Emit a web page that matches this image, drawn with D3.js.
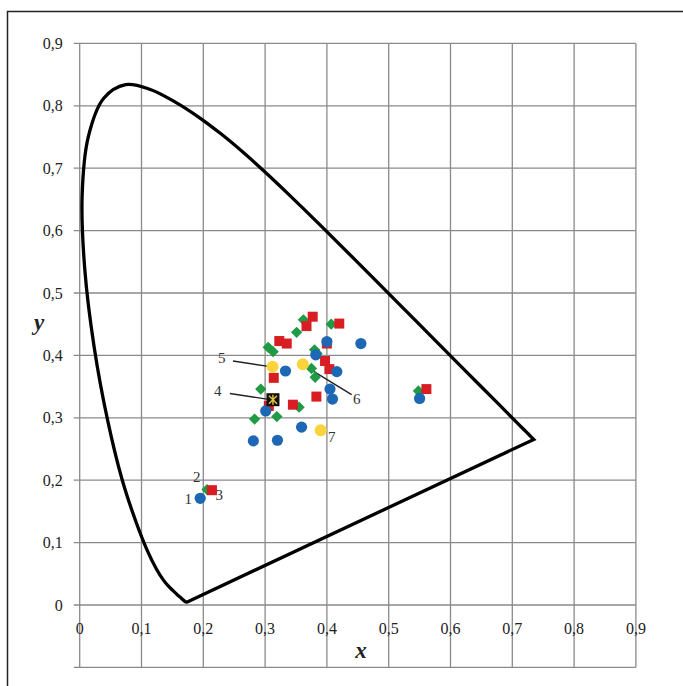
<!DOCTYPE html>
<html lang="ru">
<head>
    <meta charset="UTF-8">
    <title>CIE 1931 xy</title>
    <script src="https://cdn.jsdelivr.net/npm/d3@7/dist/d3.min.js"></script>
    <style>
        html, body { margin: 0; padding: 0; background: #fff; }
        svg { display: block; font-family: "Liberation Serif", "DejaVu Serif", serif; }
    </style>
</head>
<body>
<div id="chart"></div>
<script>
    // spectral locus (CIE 1931), 380..700 nm
    const locusX = [0.1741, 0.1738, 0.1733, 0.1726, 0.1714, 0.1689, 0.1644, 0.1566, 0.1440, 0.1355, 0.1241, 0.1096,
        0.0913, 0.0687, 0.0454, 0.0235, 0.0082, 0.0039, 0.0139, 0.0389, 0.0743, 0.1142, 0.1547, 0.1929, 0.2296,
        0.2658, 0.3016, 0.3373, 0.3731, 0.4087, 0.4441, 0.4788, 0.5125, 0.5448, 0.5752, 0.6029, 0.6270, 0.6482,
        0.6658, 0.6915, 0.7079, 0.7190, 0.7260, 0.7347];
    const locusY = [0.0050, 0.0049, 0.0048, 0.0048, 0.0051, 0.0069, 0.0109, 0.0177, 0.0297, 0.0399, 0.0578, 0.0868,
        0.1327, 0.2007, 0.2950, 0.4127, 0.5384, 0.6548, 0.7502, 0.8120, 0.8338, 0.8262, 0.8059, 0.7816, 0.7543,
        0.7243, 0.6923, 0.6589, 0.6245, 0.5896, 0.5547, 0.5202, 0.4866, 0.4544, 0.4242, 0.3965, 0.3725, 0.3514,
        0.3340, 0.3083, 0.2920, 0.2809, 0.2740, 0.2653];

    // measured points [x, y]
    const greenPts = [[0.362, 0.457], [0.351, 0.437], [0.407, 0.450], [0.305, 0.413], [0.313, 0.406], [0.380, 0.409],
        [0.384, 0.403], [0.375, 0.379], [0.381, 0.365], [0.293, 0.346], [0.355, 0.317], [0.283, 0.298],
        [0.319, 0.302], [0.206, 0.185], [0.548, 0.343]];
    const redPts = [[0.377, 0.462], [0.367, 0.447], [0.420, 0.451], [0.323, 0.423], [0.335, 0.419], [0.400, 0.419],
        [0.397, 0.391], [0.404, 0.378], [0.314, 0.364], [0.383, 0.334], [0.345, 0.321], [0.306, 0.319],
        [0.214, 0.184], [0.561, 0.346]];
    const bluePts = [[0.400, 0.422], [0.455, 0.419], [0.382, 0.401], [0.333, 0.375], [0.416, 0.374], [0.405, 0.346],
        [0.409, 0.330], [0.301, 0.311], [0.359, 0.285], [0.281, 0.263], [0.320, 0.264], [0.195, 0.171],
        [0.550, 0.331]];
    const yellowPts = [[0.312, 0.382], [0.361, 0.386], [0.390, 0.280]];
    const whitePt = [0.3127, 0.3290];

    // numbered labels and leader lines (data units)
    const labels = [["1", 0.1756, 0.1694], ["2", 0.1893, 0.2046], ["3", 0.2259, 0.1763], ["4", 0.2233, 0.3434],
        ["5", 0.2298, 0.3954], ["6", 0.4482, 0.3296], ["7", 0.4078, 0.2688]];
    const leaders = [[0.248, 0.391, 0.308, 0.382], [0.243, 0.339, 0.303, 0.330], [0.366, 0.382, 0.440, 0.337]];

    const xTicks = [0, 0.1, 0.2, 0.3, 0.4, 0.5, 0.6, 0.7, 0.8, 0.9];
    const yTicks = [-0.1, 0, 0.1, 0.2, 0.3, 0.4, 0.5, 0.6, 0.7, 0.8, 0.9];

    const width = 683, height = 686;
    const fmt = d => String(+d.toFixed(1)).replace(".", ",");

    const x = d3.scaleLinear().domain([0, 0.9]).range([79.7, 635.9]);
    const y = d3.scaleLinear().domain([-0.1, 0.9]).range([667.4, 43.4]);

    const svg = d3.select("#chart").append("svg")
        .attr("width", width)
        .attr("height", height);

    svg.append("rect").attr("width", width).attr("height", height).attr("fill", "#fff");
    svg.append("rect")
        .attr("x", 7.5).attr("y", 11.5)
        .attr("width", 720).attr("height", 720)
        .attr("fill", "none").attr("stroke", "#222").attr("stroke-width", 1.5);

    // grid
    const grid = svg.append("g").attr("stroke", "#8a8a8a").attr("stroke-width", 1.3);
    grid.selectAll(".vx").data(xTicks).join("line")
        .attr("x1", d => x(d)).attr("x2", d => x(d))
        .attr("y1", y(0.9)).attr("y2", y(-0.1));
    grid.selectAll(".hy").data(yTicks).join("line")
        .attr("y1", d => y(d)).attr("y2", d => y(d))
        .attr("x1", x(0) - 6).attr("x2", x(0.9));

    // tick labels
    svg.append("g").selectAll("text").data(yTicks.filter(d => d >= 0)).join("text")
        .attr("x", x(0) - 17).attr("y", d => y(d))
        .attr("text-anchor", "end").attr("dominant-baseline", "central")
        .attr("font-size", 16).attr("fill", "#222")
        .text(fmt);
    svg.append("g").selectAll("text").data(xTicks).join("text")
        .attr("x", d => x(d)).attr("y", y(0) + 23)
        .attr("text-anchor", "middle").attr("dominant-baseline", "central")
        .attr("font-size", 16).attr("fill", "#222")
        .text(fmt);

    svg.append("text").attr("x", x(0.455)).attr("y", y(-0.085))
        .attr("text-anchor", "middle").attr("font-size", 23)
        .attr("font-weight", "bold").attr("font-style", "italic").attr("fill", "#222")
        .text("x");
    svg.append("text").attr("x", 39).attr("y", y(0.44))
        .attr("text-anchor", "middle").attr("font-size", 23)
        .attr("font-weight", "bold").attr("font-style", "italic").attr("fill", "#222")
        .text("y");

    // spectral locus, closed by the straight purple line
    const locus = d3.range(locusX.length).map(i => [x(locusX[i]), y(locusY[i])]);
    svg.append("path")
        .attr("d", d3.line().curve(d3.curveCatmullRom)(locus) + "Z")
        .attr("fill", "none").attr("stroke", "#000").attr("stroke-width", 3.3)
        .attr("stroke-linejoin", "miter");

    // leaders
    svg.append("g").selectAll("line").data(leaders).join("line")
        .attr("x1", d => x(d[0])).attr("y1", d => y(d[1]))
        .attr("x2", d => x(d[2])).attr("y2", d => y(d[3]))
        .attr("stroke", "#222").attr("stroke-width", 1.4);

    // markers
    svg.append("g").selectAll("path").data(greenPts).join("path")
        .attr("transform", d => `translate(${x(d[0])},${y(d[1])}) rotate(45)`)
        .attr("d", "M-4,-4H4V4H-4Z")
        .attr("fill", "#1f9a45");
    svg.append("g").selectAll("rect").data(redPts).join("rect")
        .attr("x", d => x(d[0]) - 5).attr("y", d => y(d[1]) - 5)
        .attr("width", 10).attr("height", 10)
        .attr("fill", "#d81e23");
    svg.append("g").selectAll("circle").data(bluePts).join("circle")
        .attr("cx", d => x(d[0])).attr("cy", d => y(d[1])).attr("r", 5.6)
        .attr("fill", "#1c68b4");
    svg.append("g").selectAll("circle").data(yellowPts).join("circle")
        .attr("cx", d => x(d[0])).attr("cy", d => y(d[1])).attr("r", 6)
        .attr("fill", "#fbd33a");

    const wp = svg.append("g").attr("transform", `translate(${x(whitePt[0])},${y(whitePt[1])})`);
    wp.append("rect").attr("x", -6.5).attr("y", -6.5).attr("width", 13).attr("height", 13).attr("fill", "#111");
    wp.append("path").attr("d", "M-4,-4L4,4M-4,4L4,-4M0,-5V5")
        .attr("stroke", "#e8c53a").attr("stroke-width", 1.4);

    // numbers
    svg.append("g").selectAll("text").data(labels).join("text")
        .attr("x", d => x(d[1])).attr("y", d => y(d[2]))
        .attr("text-anchor", "middle").attr("dominant-baseline", "central")
        .attr("font-size", 15).attr("fill", "#333")
        .text(d => d[0]);
</script>
</body>
</html>
